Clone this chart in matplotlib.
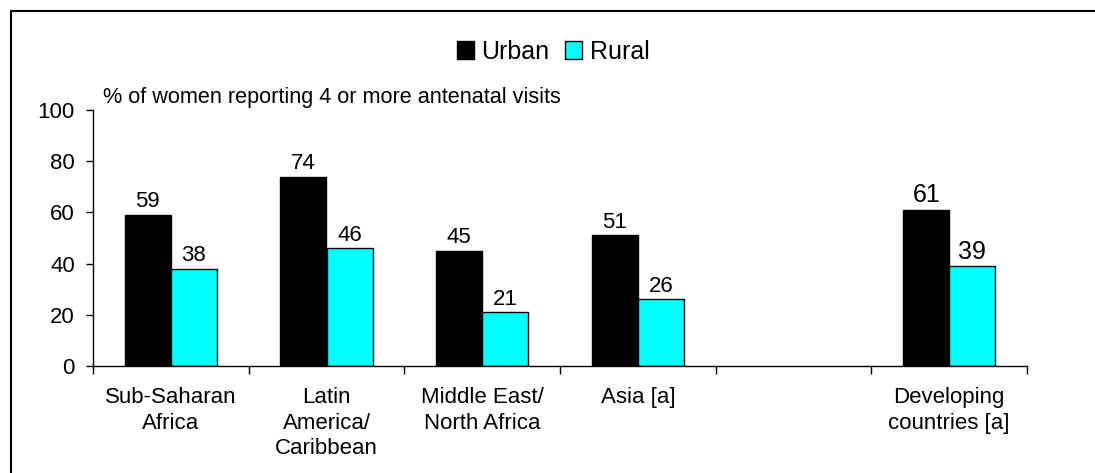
import numpy as np
import matplotlib.pyplot as plt
from matplotlib.patches import Rectangle

plt.rcParams['font.family'] = ['Liberation Sans', 'DejaVu Sans']

# Data
regions = ['Sub-Saharan\nAfrica', 'Latin\nAmerica/\nCaribbean', 'Middle East/\nNorth Africa',
           'Asia [a]', '', 'Developing\ncountries [a]']
urban = [59, 74, 45, 51, np.nan, 61]
rural = [38, 46, 21, 26, np.nan, 39]
label_sizes = [16, 16, 16, 16, 16, 18]

fig = plt.figure(figsize=(10.95, 4.73), dpi=100)
ax = fig.add_axes([93 / 1095, 1 - 366 / 473, (1027 - 93) / 1095, (366 - 110) / 473])

x = np.arange(len(regions))
w = 0.296
b1 = ax.bar(x - w / 2, urban, w, color='black', edgecolor='black', linewidth=1, label='Urban')
b2 = ax.bar(x + w / 2, rural, w, color='#00ffff', edgecolor='black', linewidth=1, label='Rural')

# value labels on top of bars
for i in range(len(x)):
    if np.isnan(urban[i]):
        continue
    ax.text(x[i] - w / 2, urban[i] + 1, f'{urban[i]:.0f}', ha='center', va='bottom',
            fontsize=label_sizes[i])
    ax.text(x[i] + w / 2, rural[i] + 1, f'{rural[i]:.0f}', ha='center', va='bottom',
            fontsize=label_sizes[i])

ax.set_xlim(-0.5, len(regions) - 0.5)
ax.set_ylim(0, 100)
ax.set_yticks(np.arange(0, 101, 20))
ax.tick_params(axis='y', labelsize=16, length=5, width=1, pad=8)

# category ticks sit between the groups, labels at group centres
ax.set_xticks(np.arange(-0.5, len(regions), 1), minor=True)
ax.set_xticks(x)
ax.set_xticklabels(regions, fontsize=16, linespacing=1.3, va='top')
ax.tick_params(axis='x', which='major', length=0, pad=15)
ax.tick_params(axis='x', which='minor', length=6, width=1, direction='out')

for s in ['top', 'right']:
    ax.spines[s].set_visible(False)
for s in ['left', 'bottom']:
    ax.spines[s].set_linewidth(1)

fig.text(103 / 1095, 1 - 98 / 473, '% of women reporting 4 or more antenatal visits',
         fontsize=15.6, va='center', ha='left')

fig.legend(handles=[b1, b2], loc='center', bbox_to_anchor=(553 / 1095, 1 - 52 / 473),
           ncol=2, frameon=False, fontsize=18, handlelength=0.7, handleheight=0.7,
           handletextpad=0.3, columnspacing=0.6, borderpad=0)

# outer frame (runs off the right and bottom edge in the original)
fig.patches.append(Rectangle((11 / 1095, -0.1), 1.2, 1 - 11 / 473 + 0.1,
                             transform=fig.transFigure, fill=False,
                             edgecolor='black', linewidth=1.5))

fig.savefig('out.png', dpi=100)
